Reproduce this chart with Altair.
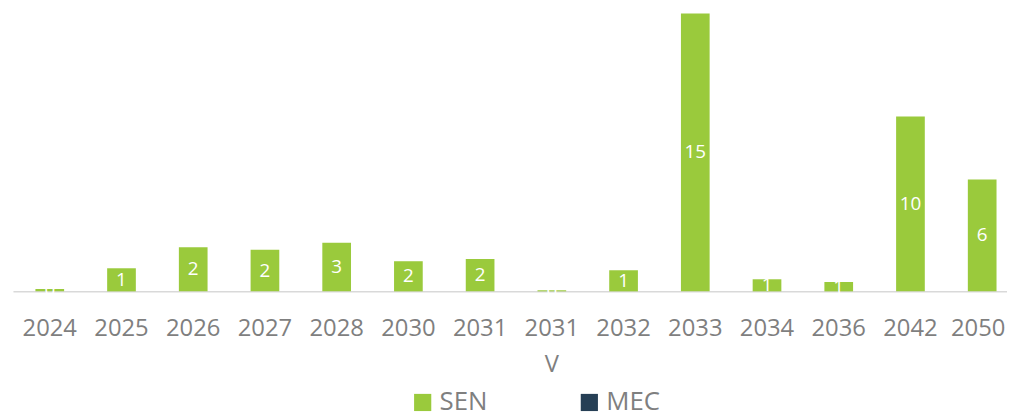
import altair as alt
import pandas as pd

years = ["2024", "2025", "2026", "2027", "2028", "2030", "2031", "2031 V",
         "2032", "2033", "2034", "2036", "2042", "2050"]
sen = [0.13, 1.28, 2.45, 2.3, 2.7, 1.67, 1.8, 0.06, 1.17, 15.4, 0.67, 0.52, 9.7, 6.2]
mec = [0] * len(years)
series = ["SEN", "MEC"]
colors = ["#9ACA3C", "#263F55"]

rows = []
for y, s, m in zip(years, sen, mec):
    rows.append({"year": y, "series": "SEN", "value": s})
    rows.append({"year": y, "series": "MEC", "value": m})
df = pd.DataFrame(rows)

FONT = "Open Sans"

xscale = alt.Scale(paddingInner=0.6, paddingOuter=0.2296, align=0.682, round=False)

x = alt.X("year:N", sort=years, title=None, scale=xscale,
          axis=alt.Axis(labelAngle=0, labelFontSize=24, labelColor="#7f7f7f",
                        labelFont=FONT, ticks=False, domainColor="#d9d9d9",
                        domainWidth=1.5, labelPadding=25, labelLineHeight=37,
                        labelOffset={"condition": {"test": "datum.label == '2050'", "value": -4},
                                     "value": 0},
                        labelExpr="datum.label == '2031 V' ? ['2031', 'V'] : datum.label"))

bars = alt.Chart(df).mark_bar().encode(
    x=x,
    y=alt.Y("value:Q", stack="zero", title=None,
            scale=alt.Scale(domain=[0, 15.4], nice=False), axis=None),
    color=alt.Color("series:N", scale=alt.Scale(domain=series, range=colors),
                    sort=series,
                    legend=alt.Legend(title=None, orient="none", direction="horizontal",
                                      legendX=400, legendY=379, symbolType="square",
                                      symbolSize=300, symbolStrokeWidth=0,
                                      labelFontSize=26, labelColor="#7f7f7f",
                                      labelFont=FONT, columnPadding=89,
                                      labelOffset=4)),
    order=alt.Order("series_order:Q"),
).transform_calculate(series_order="datum.series == 'SEN' ? 0 : 1")

labels = alt.Chart(df).transform_filter("datum.series == 'SEN'").transform_calculate(
    mid="datum.value / 2",
    lab="format(datum.value, '.0f')",
).mark_text(color="white", fontSize=19, font=FONT, baseline="middle").encode(
    x=alt.X("year:N", sort=years, scale=xscale),
    y=alt.Y("mid:Q"),
    text="lab:N",
)

chart = alt.layer(bars, labels).properties(
    width=1002, height=280,
    autosize=alt.AutoSizeParams(type="none"),
    padding={"left": 5, "top": 4, "right": 0, "bottom": 123},
).configure_view(stroke=None)

chart.save("out.html", embed_options={"renderer": "svg", "actions": False})
